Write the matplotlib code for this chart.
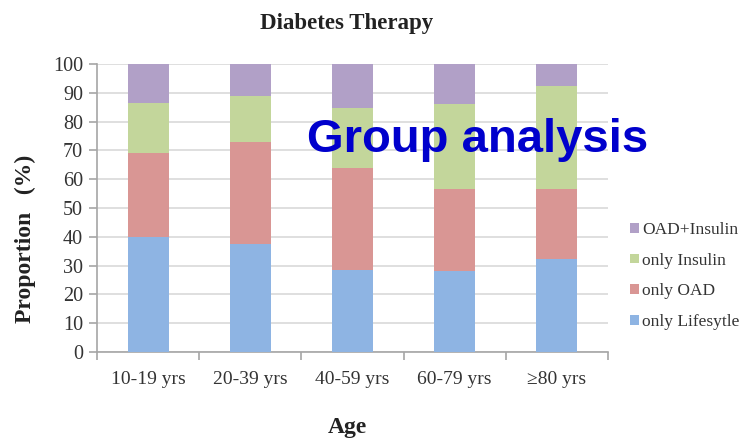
import matplotlib.pyplot as plt
import numpy as np

# Share of each therapy type by age group (%)
age_groups = ["10-19 yrs", "20-39 yrs", "40-59 yrs", "60-79 yrs", "\u226580 yrs"]
only_lifestyle = [40.0, 37.4, 28.5, 28.1, 32.3]
only_oad = [29.1, 35.6, 35.5, 28.5, 24.3]
only_insulin = [17.2, 16.0, 20.6, 29.5, 35.9]
oad_insulin = [13.7, 11.0, 15.4, 13.9, 7.5]

series_names = ["only Lifesytle", "only OAD", "only Insulin", "OAD+Insulin"]
series_colors = ["#8EB4E3", "#D99694", "#C3D69B", "#B1A0C7"]

serif = ["Liberation Serif", "DejaVu Serif"]

fig = plt.figure(figsize=(7.45, 4.40), dpi=100)
ax = fig.add_axes([97 / 745, 1 - 352 / 440, (608 - 97) / 745, (352 - 64) / 440])

x = np.arange(len(age_groups))
bottom = np.zeros(len(age_groups))
handles = []
for name, vals, col in zip(series_names,
                           [only_lifestyle, only_oad, only_insulin, oad_insulin],
                           series_colors):
    b = ax.bar(x, vals, width=0.4, bottom=bottom, color=col, label=name, zorder=3)
    handles.append(b)
    bottom += np.array(vals)

ax.set_xlim(-0.5, len(age_groups) - 0.5)
ax.set_ylim(0, 100)
ax.set_yticks(range(0, 101, 10))
ax.yaxis.grid(True, color="#D9D9D9", linewidth=1.2, zorder=0)
ax.set_axisbelow(True)

for s in ["top", "right"]:
    ax.spines[s].set_visible(False)
for s in ["left", "bottom"]:
    ax.spines[s].set_color("#A6A6A6")
    ax.spines[s].set_linewidth(1.2)

ax.set_xticks(x)
ax.set_xticklabels(age_groups, family=serif, fontsize=14, color="#333333")
ax.set_xticks(np.arange(-0.5, len(age_groups)), minor=True)
ax.tick_params(axis="x", which="major", length=0, pad=14)
ax.tick_params(axis="x", which="minor", length=6, color="#A6A6A6", width=1.2)
ax.tick_params(axis="y", length=6, color="#A6A6A6", width=1.2, pad=4)
for lbl in ax.get_yticklabels():
    lbl.set_family(serif)
    lbl.set_fontsize(14.5)
    lbl.set_color("#333333")

fig.text(347 / 745, 1 - 24 / 440, "Diabetes Therapy", family=serif, fontsize=16.5,
         fontweight="bold", ha="center", va="center", color="#222222")
fig.text(347 / 745, 1 - 427 / 440, "Age", family=serif, fontsize=17,
         fontweight="bold", ha="center", va="center", color="#222222")
fig.text(25 / 745, 1 - 239 / 440, "Proportion   (%)", family=serif, fontsize=17,
         fontweight="bold", rotation=90, ha="center", va="center", color="#222222")

leg = fig.legend(handles[::-1], series_names[::-1], loc="center left",
                 bbox_to_anchor=(627 / 745, 1 - 276 / 440), frameon=False,
                 prop={"family": serif, "size": 12.5}, handlelength=0.5,
                 handleheight=0.5, handletextpad=0.15, labelspacing=0.85,
                 borderaxespad=0, borderpad=0.2)
for t in leg.get_texts():
    t.set_color("#333333")

fig.text(307 / 745, 1 - 140 / 440, "Group analysis", family=["Liberation Sans"],
         fontsize=34, fontweight="bold", color="#0000CC", ha="left", va="center",
         zorder=10)

fig.savefig("out.png", dpi=100)
